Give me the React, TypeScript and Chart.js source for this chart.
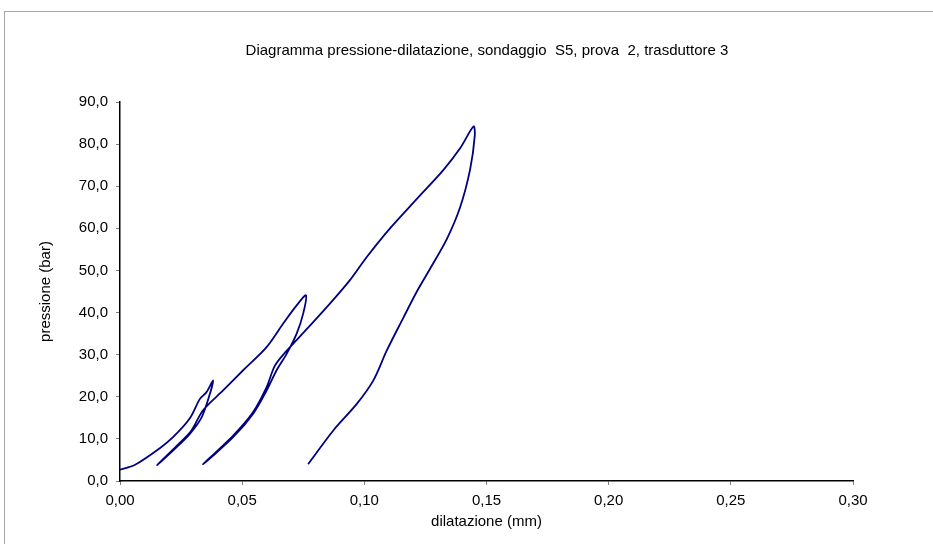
import React, { useEffect, useRef } from "react";
import { Chart, registerables } from "chart.js";

Chart.register(...registerables);

const chartTitle = "Diagramma pressione-dilatazione, sondaggio  S5, prova  2, trasduttore 3";
const xAxisTitle = "dilatazione (mm)";
const yAxisTitle = "pressione (bar)";

// dilatazione (mm), in acquisition order
const dilatazione = [
  0, 0.006, 0.0163, 0.0217, 0.0286, 0.0327, 0.0354, 0.0381,
  0.0368, 0.0334, 0.0286, 0.0231, 0.0152,
  0.0231, 0.029, 0.034, 0.0422, 0.0504, 0.06, 0.0668, 0.0723, 0.0761,
  0.075, 0.0723, 0.0682, 0.0641, 0.06, 0.0545, 0.0463, 0.034,
  0.0463, 0.0545, 0.06, 0.0634, 0.068, 0.077, 0.0859, 0.0941, 0.101, 0.1105, 0.1215, 0.1324, 0.1392, 0.1447,
  0.1452, 0.1433, 0.1392, 0.1338, 0.1275, 0.1215, 0.116, 0.1092, 0.1037, 0.0969, 0.0873, 0.077,
];
// pressione (bar)
const pressione = [
  2.7, 3.8, 7.8, 10.4, 14.9, 19.5, 21.1, 23.9,
  20.7, 15.1, 11.2, 8.0, 3.8,
  8.3, 11.8, 16.8, 21.5, 26.3, 31.8, 37.4, 41.7, 44.1,
  39.8, 35.0, 30.2, 26.3, 21.5, 16.0, 10.4, 4.0,
  10.8, 16.4, 22.3, 27.4, 30.8, 36.4, 42.1, 47.7, 53.2, 60.0, 67.0, 73.9, 79.0, 84.2,
  82.0, 74.0, 65.0, 57.5, 51.0, 45.0, 38.8, 31.0, 23.9, 18.3, 12.0, 4.0,
];

const FONT = "'Liberation Sans', Arial, sans-serif";
const FS = 15;

export default function App() {
  const ref = useRef<HTMLCanvasElement | null>(null);

  useEffect(() => {
    document.body.style.margin = "0";
    const canvas = ref.current;
    if (!canvas) return;
    const points = dilatazione.map((x, i) => ({ x, y: pressione[i] }));

    const framePlugin = {
      id: "frameAndTitle",
      beforeDraw(chart: any) {
        const ctx = chart.ctx;
        ctx.save();
        ctx.fillStyle = "#ffffff";
        ctx.fillRect(0, 0, chart.width, chart.height);
        ctx.strokeStyle = "#a6a6a6";
        ctx.lineWidth = 1;
        ctx.strokeRect(4.5, 11.5, 1200, 1200);
        ctx.fillStyle = "#000000";
        ctx.font = `${FS}px ${FONT}`;
        ctx.textAlign = "center";
        ctx.textBaseline = "middle";
        ctx.fillText(chartTitle, 487, 51);
        ctx.restore();
      },
    };

    const chart = new Chart(canvas, {
      type: "scatter",
      data: {
        datasets: [
          {
            data: points,
            showLine: true,
            borderColor: "#000080",
            backgroundColor: "#000080",
            borderWidth: 1.8,
            pointRadius: 0,
            pointHoverRadius: 0,
            tension: 0.3,
          },
        ],
      },
      options: {
        animation: false,
        responsive: false,
        devicePixelRatio: 1,
        layout: { padding: { left: 0, top: 102, right: 80, bottom: 0 } },
        plugins: {
          legend: { display: false },
          tooltip: { enabled: false },
          title: { display: false },
        },
        scales: {
          x: {
            type: "linear",
            min: 0,
            max: 0.3,
            afterFit: (s: any) => {
              s.height = 63;
            },
            ticks: {
              stepSize: 0.05,
              color: "#000",
              padding: 7,
              font: { family: FONT, size: FS },
              callback: (v: any) => Number(v).toFixed(2).replace(".", ","),
            },
            grid: { drawOnChartArea: false, drawTicks: true, tickLength: 4, color: "#808080" },
            border: { display: true, color: "#000", width: 1.5 },
            title: {
              display: true,
              text: xAxisTitle,
              color: "#000",
              font: { family: FONT, size: FS },
              padding: { top: 0, bottom: 13 },
            },
          },
          y: {
            type: "linear",
            min: 0,
            max: 90,
            afterFit: (s: any) => {
              s.width = 120;
            },
            ticks: {
              stepSize: 10,
              color: "#000",
              padding: 8,
              font: { family: FONT, size: FS },
              callback: (v: any) => Number(v).toFixed(1).replace(".", ","),
            },
            grid: { drawOnChartArea: false, drawTicks: true, tickLength: 4, color: "#808080" },
            border: { display: true, color: "#000", width: 1.5 },
            title: {
              display: true,
              text: yAxisTitle,
              color: "#000",
              font: { family: FONT, size: FS },
              padding: { top: 37, bottom: 0 },
            },
          },
        },
      },
      plugins: [framePlugin],
    });

    return () => {
      chart.destroy();
    };
  }, []);

  return (
    <div style={{ position: "absolute", left: 0, top: 0, width: 933, height: 544, overflow: "hidden", background: "#fff" }}>
      <canvas ref={ref} width={933} height={544} style={{ display: "block", width: 933, height: 544 }} />
    </div>
  );
}
